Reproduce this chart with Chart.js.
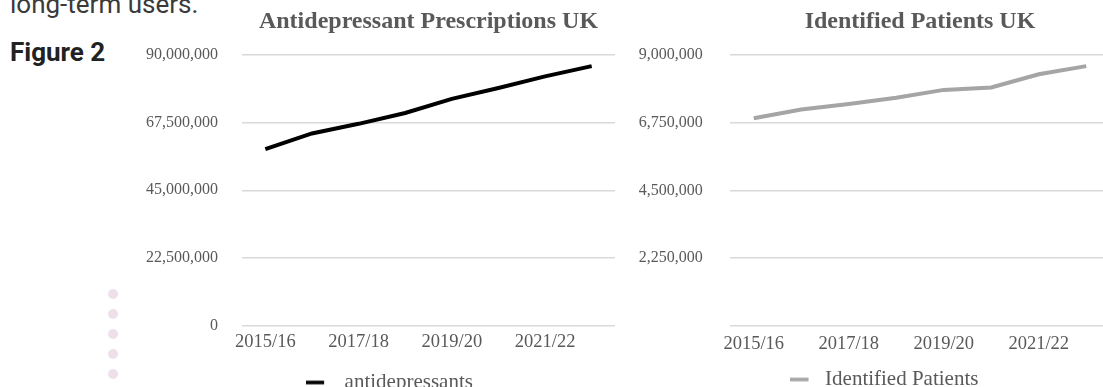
<!DOCTYPE html>
<html>
<head>
<meta charset="utf-8">
<script src="https://cdn.jsdelivr.net/npm/chart.js@4.4.1/dist/chart.umd.min.js"></script>
<style>
  html, body { margin:0; padding:0; width:1103px; height:387px; overflow:hidden; background:#fff; }
  body { position:relative; }
  #intro { position:absolute; left:10px; top:-11px; font:400 26px Roboto, sans-serif; line-height:30px; color:#3a3a3a; white-space:nowrap; }
  #fig { position:absolute; left:10px; top:37px; font:700 26px Roboto, sans-serif; line-height:30px; color:#222; white-space:nowrap; }
  .dot { position:absolute; width:10px; height:10px; border-radius:50%; background:#efdfea; left:108px; }
  canvas { position:absolute; top:0; }
  #c1 { left:140px; }
  #c2 { left:630px; }
</style>
</head>
<body>
<div id="intro">long-term users.</div>
<div id="fig">Figure 2</div>
<div class="dot" style="top:289px"></div>
<div class="dot" style="top:309px"></div>
<div class="dot" style="top:329px"></div>
<div class="dot" style="top:349px"></div>
<div class="dot" style="top:369px"></div>
<canvas id="c1" width="499" height="403"></canvas>
<canvas id="c2" width="508" height="400"></canvas>
<script>
// ---- data ----
const categories = ['2015/16','2016/17','2017/18','2018/19','2019/20','2020/21','2021/22','2022/23'];
const antidepressants = [58700000, 63900000, 67100000, 70700000, 75400000, 79000000, 82900000, 86300000];
const identifiedPatients = [6900000, 7190000, 7370000, 7580000, 7840000, 7920000, 8360000, 8630000];
const leftAxisTicks = [0, 22500000, 45000000, 67500000, 90000000];
const rightAxisTicks = [0, 2250000, 4500000, 6750000, 9000000];
const leftTitle = 'Antidepressant Prescriptions UK';
const rightTitle = 'Identified Patients UK';
const leftSeriesName = 'antidepressants';
const rightSeriesName = 'Identified Patients';

const TXT = '#595959';
const GRID = '#d9d9d9';
const SERIF = "'Liberation Serif', 'Times New Roman', serif";

function marker(color, w, lineW, thick) {
  const c = document.createElement('canvas');
  c.width = w; c.height = 8;
  const g = c.getContext('2d');
  g.fillStyle = color;
  g.fillRect(0, (8 - thick) / 2, lineW, thick);
  return c;
}

function makeChart(id, cfg) {
  const ticks = cfg.ticks;
  return new Chart(document.getElementById(id), {
    type: 'line',
    data: {
      labels: categories,
      datasets: [{
        label: cfg.name,
        data: cfg.values,
        borderColor: cfg.color,
        backgroundColor: cfg.color,
        borderWidth: 4,
        pointRadius: 0,
        tension: 0,
        borderCapStyle: 'butt'
      }]
    },
    options: {
      responsive: false,
      animation: false,
      devicePixelRatio: 1,
      layout: { padding: 0 },
      plugins: {
        tooltip: { enabled: false },
        title: {
          display: true,
          text: cfg.title,
          fullSize: false,
          color: TXT,
          font: { family: SERIF, size: 24, weight: 'bold' },
          padding: { top: 7.4, bottom: 18.8 }
        },
        legend: {
          display: true,
          position: 'bottom',
          align: 'center',
          labels: {
            color: TXT,
            font: { family: SERIF, size: 21 },
            usePointStyle: true,
            pointStyle: cfg.marker,
            pointStyleWidth: cfg.markerW,
            padding: 10
          }
        }
      },
      scales: {
        x: {
          offset: true,
          grid: { display: false, drawTicks: false, tickLength: 0 },
          border: { display: false },
          ticks: {
            autoSkip: false,
            maxRotation: 0,
            color: TXT,
            font: { family: SERIF, size: 18.5 },
            padding: cfg.xPad,
            callback: function (v, i) { return i % 2 === 0 ? this.getLabelForValue(v) : ''; }
          },
          afterFit: s => { s.height = cfg.xHeight; }
        },
        y: {
          min: ticks[0],
          max: ticks[ticks.length - 1],
          afterBuildTicks: s => { s.ticks = ticks.map(v => ({ value: v })); },
          grid: { color: GRID, lineWidth: 1.5, drawTicks: false, tickLength: 0 },
          border: { display: false },
          ticks: {
            color: TXT,
            font: { family: SERIF, size: 16 },
            padding: cfg.yPad,
            callback: v => (cfg.hideZero && v === 0) ? '' : Number(v).toLocaleString('en-US')
          },
          afterFit: s => { s.width = cfg.yWidth; }
        },
        // empty spacer on the right so the legend centres on the whole figure
        spacer: {
          type: 'linear',
          position: 'right',
          display: true,
          grid: { display: false, drawTicks: false },
          border: { display: false },
          ticks: { display: false },
          afterFit: s => { s.width = cfg.rightSpace; }
        }
      }
    }
  });
}

makeChart('c1', {
  name: leftSeriesName, values: antidepressants, color: '#000000', title: leftTitle,
  ticks: leftAxisTicks, yWidth: 102, yPad: 24, xPad: 5.5, xHeight: 36.5, rightSpace: 24,
  marker: marker('#000000', 28, 18, 3.6), markerW: 28, hideZero: false
});
makeChart('c2', {
  name: rightSeriesName, values: identifiedPatients, color: '#a5a5a5', title: rightTitle,
  ticks: rightAxisTicks, yWidth: 100, yPad: 27.3, xPad: 7, xHeight: 33.3, rightSpace: 28,
  marker: marker('#a5a5a5', 25, 19, 3.6), markerW: 25, hideZero: true
});
</script>
</body>
</html>
